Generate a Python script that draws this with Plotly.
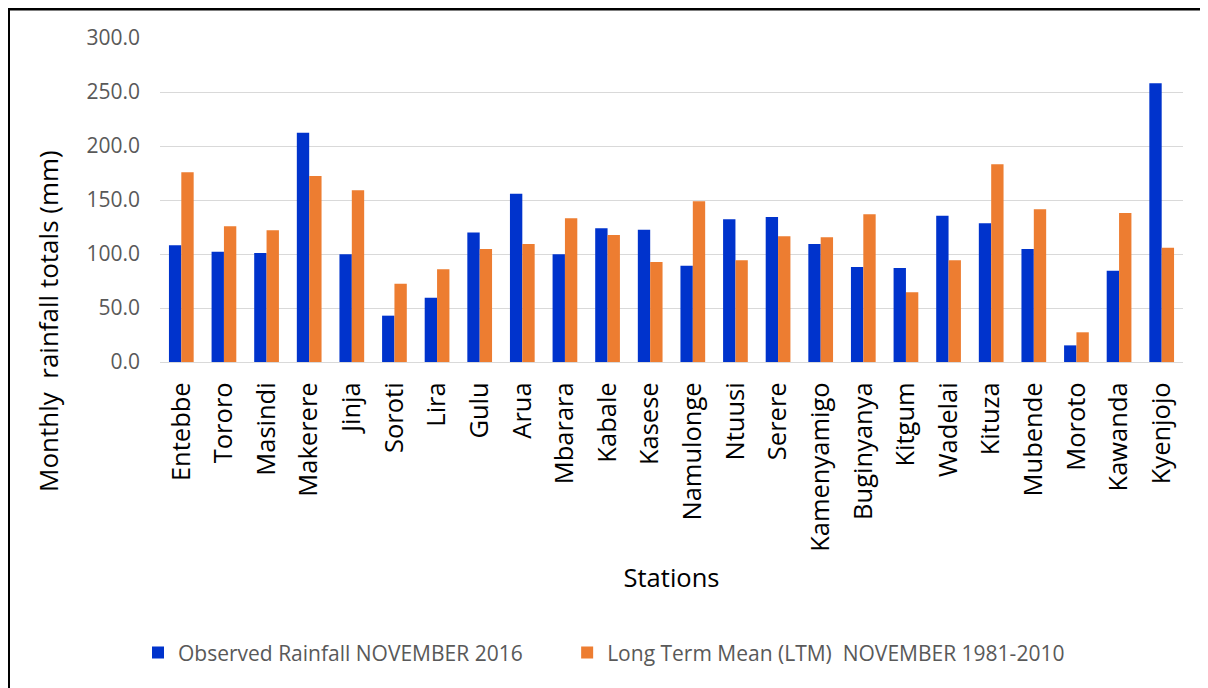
import plotly.graph_objects as go

stations = ["Entebbe", "Tororo", "Masindi", "Makerere", "Jinja", "Soroti", "Lira", "Gulu",
            "Arua", "Mbarara", "Kabale", "Kasese", "Namulonge", "Ntuusi", "Serere",
            "Kamenyamigo", "Buginyanya", "Kitgum", "Wadelai", "Kituza", "Mubende",
            "Moroto", "Kawanda", "Kyenjojo"]

observed_nov_2016 = [108.0, 102.0, 101.0, 212.3, 99.7, 42.9, 59.5, 120.0,
                     155.8, 99.7, 123.8, 122.5, 89.2, 132.1, 134.3,
                     109.3, 88.0, 87.0, 135.5, 128.4, 104.6,
                     15.4, 84.6, 258.0]

ltm_nov_1981_2010 = [175.6, 125.6, 122.0, 172.2, 159.0, 72.5, 85.8, 104.6,
                     109.3, 133.0, 117.6, 92.6, 148.8, 94.1, 116.4,
                     115.4, 136.7, 64.5, 94.1, 183.0, 141.4,
                     27.5, 138.0, 105.8]

y_ticks = [0, 50, 100, 150, 200, 250, 300]
y_tick_text = ["0.0", "50.0", "100.0", "150.0", "200.0", "250.0", "300.0"]

FONT = "Open Sans"
LEGEND_FONT = dict(family=FONT, size=21, color="#595959")

fig = go.Figure()
fig.add_trace(go.Bar(
    x=stations, y=observed_nov_2016,
    name="Observed Rainfall NOVEMBER 2016",
    marker=dict(color="#0033CC", line=dict(width=0)),
    legend="legend",
))
fig.add_trace(go.Bar(
    x=stations, y=ltm_nov_1981_2010,
    name="Long Term Mean (LTM)  NOVEMBER 1981-2010",
    marker=dict(color="#ED7D31", line=dict(width=0)),
    legend="legend2",
))

fig.update_layout(
    width=1200, height=680,
    margin=dict(l=152, r=25, t=30, b=326, autoexpand=False),
    paper_bgcolor="white", plot_bgcolor="white",
    barmode="group", bargap=0.42, bargroupgap=0.0,
    font=dict(family=FONT, color="black"),
    showlegend=True,
    legend=dict(
        orientation="h", x=-0.0215, xanchor="left", y=-0.898, yanchor="middle",
        font=LEGEND_FONT, bgcolor="rgba(0,0,0,0)", borderwidth=0,
    ),
    legend2=dict(
        orientation="h", x=0.398, xanchor="left", y=-0.898, yanchor="middle",
        font=LEGEND_FONT, bgcolor="rgba(0,0,0,0)", borderwidth=0,
    ),
    xaxis=dict(
        type="category",
        tickangle=-90,
        tickfont=dict(family=FONT, size=25.5, color="black"),
        showgrid=False, showline=True, linecolor="#D9D9D9", linewidth=1.3,
        ticks="", automargin=False, ticklabelstandoff=9,
        title=dict(text="Stations", font=dict(family=FONT, size=25.5, color="black"), standoff=18),
    ),
    yaxis=dict(
        range=[0, 300],
        tickvals=y_ticks, ticktext=y_tick_text,
        tickfont=dict(family=FONT, size=21, color="#595959"),
        showgrid=True, gridcolor="#D9D9D9", gridwidth=1.3,
        zeroline=False, showline=False, ticks="",
        automargin=False, ticklabelstandoff=19,
    ),
    annotations=[dict(
        text="Monthly  rainfall totals (mm)", textangle=-90,
        xref="paper", yref="paper", x=-0.1095, y=0.1265,
        xanchor="center", yanchor="middle", showarrow=False,
        font=dict(family=FONT, size=26, color="black"),
    )],
    shapes=[dict(
        type="rect", xref="paper", yref="paper",
        x0=-0.1481, x1=1.2, y0=-1.3, y1=1.0895,
        line=dict(color="black", width=3), fillcolor="rgba(0,0,0,0)", layer="above",
    )],
)

fig.write_html("out.html")
